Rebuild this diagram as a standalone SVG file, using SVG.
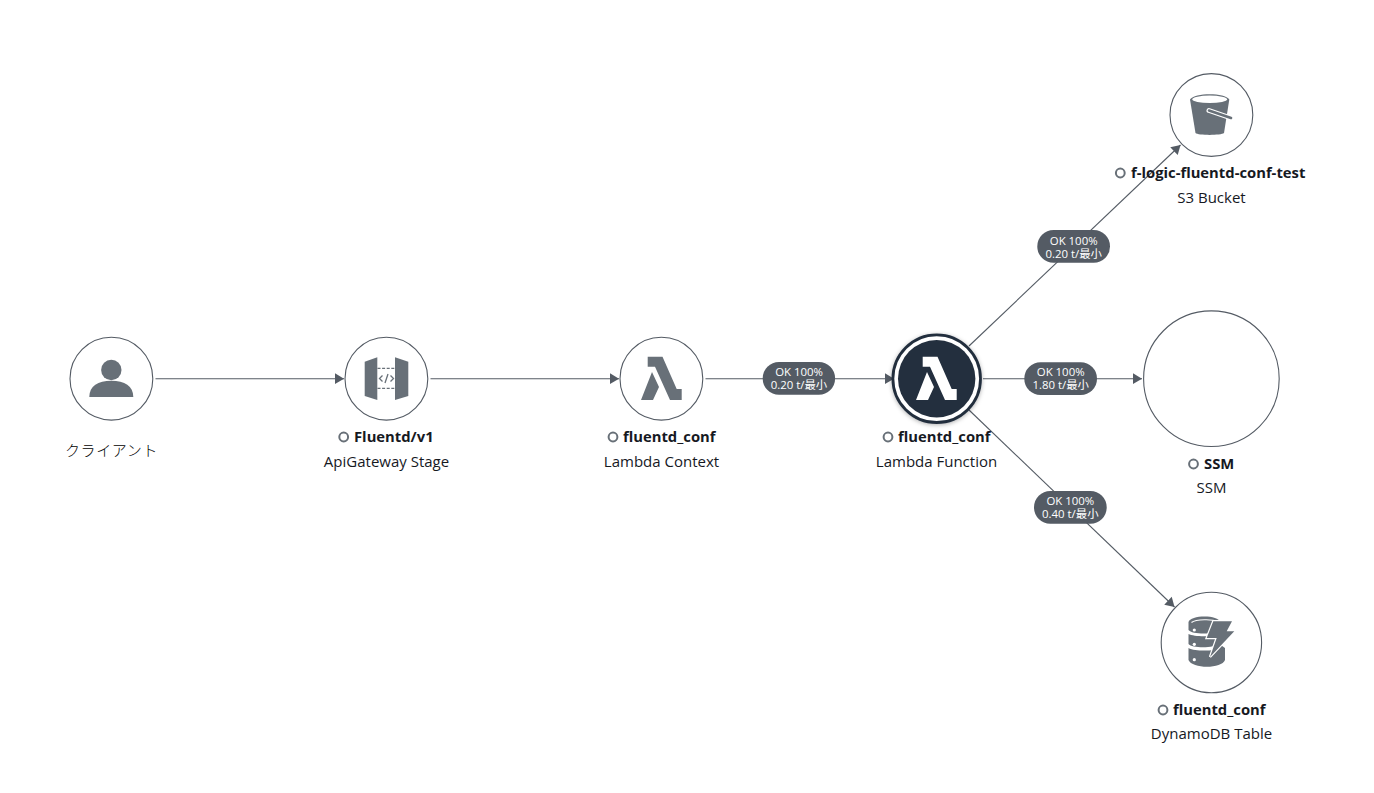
<svg xmlns="http://www.w3.org/2000/svg" xmlns:xlink="http://www.w3.org/1999/xlink" width="1374" height="793" viewBox="0 0 1374 793">
<style>
text{font-family:"Open Sans","Noto Sans","Noto Sans CJK JP",sans-serif;fill:#16191f}
.c{fill:#fff;stroke:#545b64;stroke-width:1.1}
.e{fill:none;stroke:#545b64;stroke-width:1.1;marker-end:url(#a)}
.n{font-size:14.8px;font-weight:700}
.t{font-size:15px;text-anchor:middle}
.s{fill:none;stroke:#687078;stroke-width:2}
.i{fill:#687078}
.p{fill:#545b64}
.l{font-size:11.4px;fill:#fff;text-anchor:middle}
</style>
<defs>
<marker id="a" markerUnits="userSpaceOnUse" markerWidth="10" markerHeight="12" refX="9.5" refY="6" orient="auto"><path d="M0.5 0.6L9.5 6L0.5 11.4Z" fill="#545b64"/></marker>
<path id="lam" d="M647.7 356.7H662.5L676.7 389H681.7V400H670L655 366.7H647.7ZM641 400L652 372L659 387L653 400Z"/>
<filter id="sh" x="-20%" y="-20%" width="140%" height="140%"><feDropShadow dx="0" dy="1" stdDeviation="2" flood-color="#000" flood-opacity=".3"/></filter>
</defs>
<rect width="1374" height="793" fill="#fff"/>
<g id="connectors">
<path class="e" d="M155.500 378.700H344"/>
<path class="e" d="M430.500 378.700H619"/>
<path class="e" d="M705.500 378.700H894"/>
<path class="e" d="M969 346L1180.500 145"/>
<path class="e" d="M983 378.700H1142"/>
<path class="e" d="M969 410L1174.500 607"/>
</g>
<g id="edge-labels">
<g><rect class="p" x="762.700" y="362" width="72.400" height="32.700" rx="16.300"/><text class="l" x="799" y="376">OK 100%</text><text class="l" x="799" y="389">0.20 t/最小</text></g>
<g><rect class="p" x="1037.300" y="230" width="72.700" height="32.700" rx="16.300"/><text class="l" x="1073.700" y="245">OK 100%</text><text class="l" x="1073.700" y="258">0.20 t/最小</text></g>
<g><rect class="p" x="1024.300" y="362.300" width="72.700" height="32.700" rx="16.300"/><text class="l" x="1060.700" y="376.300">OK 100%</text><text class="l" x="1060.700" y="389">1.80 t/最小</text></g>
<g><rect class="p" x="1034" y="491" width="72.700" height="32.700" rx="16.300"/><text class="l" x="1070.300" y="505">OK 100%</text><text class="l" x="1070.300" y="517.800">0.40 t/最小</text></g>
</g>
<g id="node-client">
<circle class="c" cx="111.400" cy="378.700" r="41.400"/>
<circle class="i" cx="111.300" cy="370" r="10.200"/>
<path class="i" d="M89.300 397C89.300 386 98 380.700 111.300 380.700S133.300 386 133.300 397Z"/>
<text x="111.500" y="456" font-size="15" text-anchor="middle" style="font-family:'Noto Sans CJK JP',sans-serif;font-weight:300;fill:#000" letter-spacing=".6">クライアント</text>
</g>
<g id="node-api">
<circle class="c" cx="386.400" cy="378.700" r="41.400"/>
<path class="i" d="M364.700 361.700L377.300 357.300V400L364.700 396Z"/>
<path class="i" d="M395 357.300L408.300 361.700V396L395 400Z"/>
<path d="M377.500 368.300H395M377.500 388.300H395" fill="none" stroke="#687078" stroke-width="1.300" stroke-dasharray="3 1.600"/>
<path d="M382.500 375.500L379.500 378.500L382.500 381.500M390.500 375.500L393.500 378.500L390.500 381.500M388 374L385 383" fill="none" stroke="#687078" stroke-width="1.300"/>
<circle class="s" cx="343.700" cy="437" r="4.400"/>
<text class="n" x="354" y="442">Fluentd/v1</text>
<text class="t" x="386.500" y="467">ApiGateway Stage</text>
</g>
<g id="node-lambda-context">
<circle class="c" cx="661.400" cy="378.700" r="41.400"/>
<use xlink:href="#lam" href="#lam" class="i"/>
<circle class="s" cx="613" cy="437" r="4.400"/>
<text class="n" x="623" y="442">fluentd_conf</text>
<text class="t" x="661.500" y="467">Lambda Context</text>
</g>
<g id="node-lambda-function">
<circle cx="936.700" cy="378.700" r="43.800" fill="#fff" stroke="#232f3e" stroke-width="2.800" filter="url(#sh)"/>
<circle cx="936.700" cy="378.700" r="38.700" fill="#232f3e"/>
<use xlink:href="#lam" href="#lam" transform="translate(275 0)" fill="#fff"/>
<circle class="s" cx="888" cy="437" r="4.400"/>
<text class="n" x="898" y="442">fluentd_conf</text>
<text class="t" x="936.500" y="467">Lambda Function</text>
</g>
<g id="node-s3">
<circle class="c" cx="1211.400" cy="115" r="41.400"/>
<path class="i" d="M1190 99.500L1195.500 133C1198 135.500 1221 135.500 1224 133L1229.300 99.500C1225 92.500 1194.500 92.500 1190 99.500Z"/>
<ellipse cx="1209.700" cy="99.300" rx="17.500" ry="3.700" fill="#fff"/>
<path d="M1209 110.500L1228 117" stroke="#fff" stroke-width="5" stroke-linecap="round" fill="none"/>
<path d="M1209 110.500L1231 118" stroke="#687078" stroke-width="2.600" stroke-linecap="round" fill="none"/>
<circle class="s" cx="1120.300" cy="173" r="4.400"/>
<text class="n" x="1131" y="178">f-logic-fluentd-conf-test</text>
<text class="t" x="1211.500" y="203">S3 Bucket</text>
</g>
<g id="node-ssm">
<circle class="c" cx="1211.400" cy="378.700" r="67.800"/>
<circle class="s" cx="1193.500" cy="464" r="4.400"/>
<text class="n" x="1204" y="469">SSM</text>
<text class="t" x="1211.500" y="493">SSM</text>
</g>
<g id="node-dynamodb">
<circle class="c" cx="1211.400" cy="642.500" r="50.200"/>
<path class="i" d="M1188.500 622C1190 614.500 1219 614.500 1220 622V630C1216 634.500 1192 635 1188.500 630Z"/>
<path class="i" d="M1188.500 634C1194 637 1214 637 1219 634V644C1215 648 1192 648.500 1188.500 644Z"/>
<path class="i" d="M1188.500 648C1194 651 1206 651 1214 650L1220 644.500L1225 648V660C1222 669 1192 669 1188.500 660Z"/>
<path d="M1191.500 622.500C1196 619 1213 619 1217 621.500" stroke="#fff" stroke-width="1.200" fill="none"/>
<circle cx="1194.300" cy="630" r="1.600" fill="#fff"/><circle cx="1194.300" cy="644.300" r="1.600" fill="#fff"/><circle cx="1194.300" cy="659.700" r="1.600" fill="#fff"/>
<path d="M1213.300 621.300H1232L1226.700 631.300H1234.300L1210 657L1216.700 638H1206.700Z" fill="#687078" stroke="#fff" stroke-width="2.400" stroke-linejoin="miter" paint-order="stroke"/>
<circle class="s" cx="1163" cy="710" r="4.400"/>
<text class="n" x="1173" y="715">fluentd_conf</text>
<text class="t" x="1211.500" y="739">DynamoDB Table</text>
</g>
</svg>
